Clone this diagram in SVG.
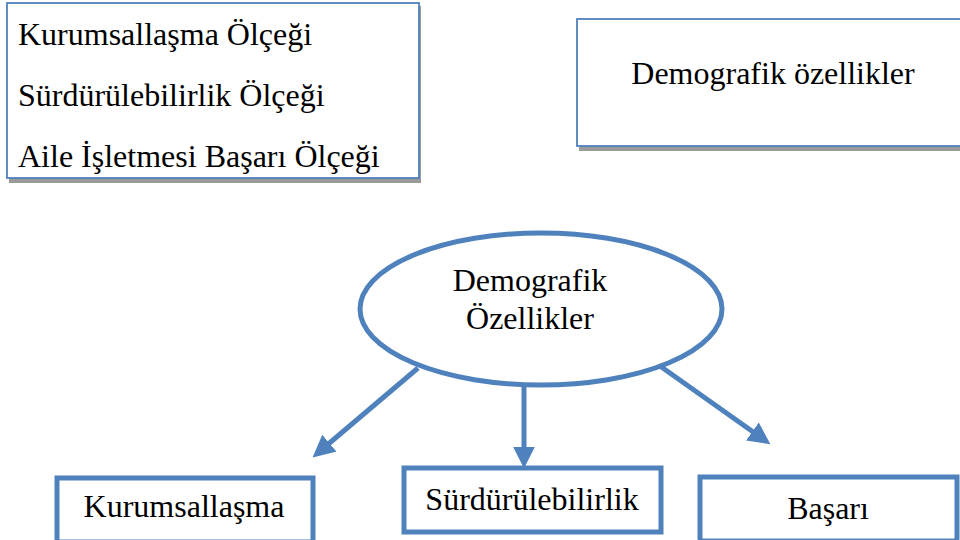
<svg xmlns="http://www.w3.org/2000/svg" width="960" height="540" viewBox="0 0 960 540">
<defs>
<style>
.t{font-family:"Liberation Serif","Times New Roman",serif;fill:#000;font-size:32px}
.thin{fill:#fff;stroke:#4F81BD;stroke-width:1.8}
.thick{fill:#fff;stroke:#4F81BD;stroke-width:5}
.sh{fill:#9a9a9a}
.conn{stroke:#4F81BD;stroke-width:5;fill:none}
</style>
<marker id="ah" viewBox="0 0 10 10" refX="2" refY="5" markerWidth="4.4" markerHeight="4.4" orient="auto" markerUnits="strokeWidth">
<path d="M0,0 L10,5 L0,10 z" fill="#4F81BD"/>
</marker>
</defs>
<rect width="960" height="540" fill="#fff"/>
<g id="scales">
<rect class="sh" x="9" y="6" width="412" height="177"/>
<rect class="thin" x="7" y="3" width="412" height="175"/>
<text class="t" x="18" y="45">Kurumsallaşma Ölçeği</text>
<text class="t" x="18" y="106">Sürdürülebilirlik Ölçeği</text>
<text class="t" x="18" y="167">Aile İşletmesi Başarı Ölçeği</text>
</g>
<g id="demo-box">
<rect class="sh" x="579" y="22" width="400" height="129"/>
<rect class="thin" x="577" y="19" width="400" height="127"/>
<text class="t" x="773" y="84" text-anchor="middle">Demografik özellikler</text>
</g>
<g id="demo-ellipse">
<ellipse cx="541" cy="309" rx="181" ry="76" class="thick"/>
<text class="t" x="530" y="291" text-anchor="middle">Demografik</text>
<text class="t" x="530" y="329" text-anchor="middle">Özellikler</text>
</g>
<g id="connectors">
<line class="conn" x1="418" y1="368" x2="326" y2="446" marker-end="url(#ah)"/>
<line class="conn" x1="524" y1="385" x2="524" y2="451" marker-end="url(#ah)"/>
<line class="conn" x1="660" y1="366" x2="756" y2="434" marker-end="url(#ah)"/>
</g>
<g id="kurumsallasma">
<rect class="thick" x="57" y="478" width="256" height="64"/>
<text class="t" x="184" y="517" text-anchor="middle">Kurumsallaşma</text>
</g>
<g id="surdurulebilirlik">
<rect class="thick" x="404" y="468" width="257" height="64"/>
<text class="t" x="532" y="510" text-anchor="middle">Sürdürülebilirlik</text>
</g>
<g id="basari">
<rect class="thick" x="700" y="477" width="257" height="64"/>
<text class="t" x="828" y="519" text-anchor="middle">Başarı</text>
</g>
</svg>
